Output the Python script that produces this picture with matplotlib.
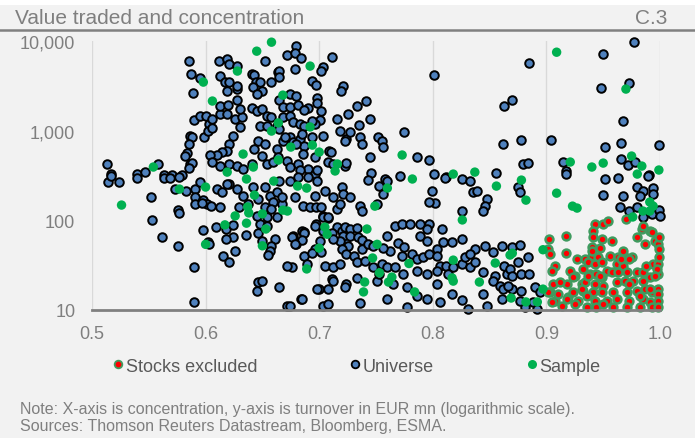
import numpy as np
import matplotlib.pyplot as plt
from matplotlib.lines import Line2D
from matplotlib.patches import Rectangle
from matplotlib.ticker import FixedLocator, FuncFormatter, NullLocator

plt.rcParams['font.family'] = ['Liberation Sans', 'DejaVu Sans']

# concentration (x) and turnover in EUR mn (y)
universe_conc = [
    .513, .517, .540, .547, .558, .563, .570, .579, .585, .587,
    .595, .589, .590, .586, .588, .585, .584, .582, .586, .588,
    .585, .514, .524, .517, .540, .563, .569, .577, .552, .553,
    .562, .576, .577, .576, .590, .590, .573, .583, .591, .595,
    .612, .619, .621, .628, .613, .617, .621, .619, .628, .628,
    .628, .641, .643, .644, .648, .642, .650, .645, .652, .658,
    .664, .665, .665, .672, .680, .679, .684, .679, .694, .697,
    .703, .702, .711,
    .674, .680, .665, .668, .674, .681, .690, .687, .698, .698,
    .702, .701, .696, .641, .645, .650, .654, .658, .648, .654,
    .663, .668, .674, .677, .683, .687, .694, .595, .600, .603,
    .606, .613, .619, .613, .620, .626, .630, .632, .630,
    .599, .602, .606, .624, .621, .619, .614, .610, .604, .646,
    .643, .652, .663, .668, .674, .677, .683, .687, .694, .696,
    .703, .709, .718, .724, .606, .613, .621, .628, .633, .641,
    .650, .654, .659, .664, .672, .674, .681, .686, .690, .696,
    .708, .712, .723, .665, .670, .685, .680, .710, .683, .698,
    .721, .719, .725, .716, .733, .741, .735, .745, .727, .723,
    .736, .738, .752, .755, .756, .745, .724, .746, .758, .775,
    .786, .797, .801, .801, .812,
    .885, .863, .870, .862, .878, .879, .884, .904, .915, .917,
    .950, .977, .948, .973, .967, .952, .966, .966, .972, .978,
    .990, .999, .952, .963, .856, .826, .833,
    .598, .602, .603, .609, .618, .624, .624, .618, .615, .621,
    .626, .629, .637, .636, .646, .648, .654, .650, .661, .658,
    .657, .655, .621, .628, .633, .642, .646, .652, .657, .663,
    .659, .652, .658, .667, .645, .654, .663, .646, .650, .645,
    .665, .591, .598, .601, .591, .597, .605, .613, .610, .614,
    .619,
    .684, .672, .676, .687, .689, .700, .703, .708, .705, .712,
    .711, .696, .702, .701, .677, .680, .685, .687, .697, .703,
    .708, .716, .720, .724, .721, .725, .716, .718,
    .665, .674, .681, .690, .698, .705, .712, .720, .721, .727,
    .743, .753, .760, .756, .771, .799, .802, .811, .826, .797,
    .667, .679, .686, .692, .697, .696, .702, .736, .738, .751,
    .703, .708, .676, .687, .685, .679, .696, .703, .711, .723,
    .727, .733, .721, .727, .734, .718, .720, .712, .738, .738,
    .743, .760, .767, .773, .780, .789, .797, .795, .808, .789,
    .795, .804, .809, .817, .826, .769, .775, .762, .756, .747,
    .672, .694, .718, .724, .731, .733, .740, .747, .755, .760,
    .767, .773, .782, .786, .791, .797, .804, .806, .812, .818,
    .826, .828, .833, .786, .795, .804, .813, .804, .733, .724,
    .712, .698, .708, .723, .751, .765, .777, .774, .753, .674,
    .685, .736, .760, .786, .795, .806, .817, .826, .831, .777,
    .835, .839, .848, .846, .844, .875, .877, .917, .950, .967,
    .980, .985, .994, .994, .989, .982, .965, .973, .980, .985,
    .993, .999, 1.0, .837, .846, .853, .861, .870, .877, .884,
    .833, .837, .844, .855, .853, .863, .865, .868, .875, .878,
    .870, .885, .859, .862, .870, .878, .844, .848, .861, .881,
    .890, .894, .888, .892, .866, .877,
]
universe_turnover = [
    425, 330, 330, 345, 425, 320, 320, 320, 6000, 4300,
    3900, 2600, 1300, 870, 850, 710, 560, 520, 425, 435,
    380, 270, 270, 310, 300, 300, 297, 305, 182, 101,
    65, 130, 121, 52, 30, 12.3, 223, 212, 223, 267,
    6000, 6300, 5500, 5250, 4060, 3480, 3480, 2760, 2910, 2190,
    3140, 4280, 4170, 3480, 3480, 3060, 2760, 2560, 5970, 3480,
    4500, 4620, 3960, 6960, 8800, 7320, 6450, 4860, 3570, 3220,
    5120, 4620, 6620,
    2560, 2430, 2190, 1830, 1830, 1930, 1790, 1700, 2310, 2030,
    1660, 1310, 1190, 1790, 1660, 1740, 1460, 1420, 1120, 1120,
    1120, 1420, 1460, 1250, 1190, 1120, 1280, 1460, 1460, 1190,
    1350, 1530, 1530, 1880, 1930, 1350, 1100, 1420, 1740,
    850, 990, 1070, 870, 710, 593, 577, 535, 535, 765,
    624, 710, 624, 765, 850, 746, 805, 673, 850, 508,
    870, 593, 990, 805, 447, 403, 425, 403, 373, 425,
    521, 425, 447, 508, 458, 393, 425, 548, 373, 328,
    447, 425, 403, 1040, 850, 915, 710, 577, 364, 364,
    3140, 2760, 1530, 1350, 1880, 2140, 1150, 1350, 965, 765,
    850, 710, 850, 765, 656, 508, 435, 337, 289, 965,
    508, 470, 4170, 328, 304,
    5670, 1880, 2190, 710, 785, 425, 435, 785, 447, 355,
    7140, 9700, 2980, 3390, 1280, 656, 728, 482, 414, 447,
    320, 690, 289, 297, 337, 289, 274,
    78, 57, 54, 84, 80, 89, 65, 62, 40, 34,
    45, 141, 152, 69, 72, 91, 86, 59, 62, 52,
    45, 41, 254, 223, 187, 235, 173, 235, 187, 207,
    160, 141, 134, 152, 112, 109, 109, 20.5, 21, 16.3,
    18, 182, 168, 152, 152, 156, 144, 141, 223, 207,
    254,
    13.3, 11.1, 30, 40, 33, 17.1, 11.1, 11.7, 31, 30,
    22, 48, 44, 59, 67, 54, 76, 74, 91, 112,
    106, 84, 76, 62, 48, 52, 134, 152,
    274, 274, 304, 304, 274, 212, 182, 235, 196, 182,
    281, 241, 274, 196, 312, 212, 156, 297, 127, 160,
    182, 182, 144, 141, 141, 187, 141, 144, 127, 152,
    109, 109, 65, 72, 60, 54, 86, 76, 72, 84,
    80, 82, 67, 67, 65, 59, 48, 62, 60, 48,
    54, 67, 86, 91, 91, 91, 91, 80, 80, 67,
    59, 48, 57, 57, 62, 56, 50, 45, 49, 52,
    31, 43, 33, 42, 40, 34, 35, 30, 33, 30,
    30, 40, 42, 37, 39, 42, 40, 31, 31, 30,
    33, 39, 30, 27, 25, 27, 25, 19.5, 23, 19.5,
    21, 17.1, 17.1, 18, 21, 19.5, 18, 25, 25, 11.1,
    13.3, 12, 13.3, 14.3, 13.3, 12.3, 15.1, 12.9, 10.3, 10.8,
    207, 212, 173, 144, 127, 235, 207, 328, 191, 187,
    235, 212, 229, 196, 312, 187, 141, 127, 141, 109,
    118, 130, 112, 48, 52, 44, 52, 50, 53, 39,
    42, 34, 26.6, 23.9, 21, 31, 25.2, 28.7, 34, 25.2,
    23.9, 25.2, 18.5, 17.1, 17.1, 16.3, 15.1, 11.1, 13.3, 10.8,
    18, 15.9, 12.3, 10.3, 18.5, 12.6,
]

sample_conc = [
    .658, .645, .598, .628, .692, .606, .668, .664, .658, .692,
    .633, .675, .694, .700, .664, .642, .619, .714, .716, .554,
    .909, .970, .773, .921, .940, .950, .975, .984, .980, .999,
    .818, .837, .782, .878, .526, .577, .600, .617, .600, .626,
    .636, .637, .638, .643, .636, .650, .653, .650, .660, .668,
    .689, .700, .705, .707, .681, .689, .672, .760, .749, .826,
    .742, .751, .747, .779, .818, .753, .764, .740, .761, .739,
    .784, .818, .817, .856, .882, .909, .923, .927, .991, .994,
    .991, .985, .976, .855, .841, .868, .870, .897, .897, .869,
    .882, .892,
]
sample_turnover = [
    9700, 7700, 3480, 4620, 5250, 2140, 2490, 1220, 990, 1100,
    548, 656, 690, 577, 470, 393, 345, 355, 425, 393,
    7500, 2910, 535, 447, 393, 435, 521, 403, 328, 364,
    328, 345, 289, 281, 148, 223, 235, 89, 54, 112,
    93, 141, 121, 191, 289, 118, 80, 52, 274, 130,
    28.7, 49, 84, 70, 241, 229, 127, 229, 144, 101,
    80, 54, 38, 33, 36, 26, 23.3, 20.5, 20.5, 15.9,
    15.9, 21, 22.8, 241, 168, 201, 144, 137, 160, 144,
    127, 127, 109, 33.4, 20.5, 41, 43, 47, 17.1, 13.6,
    12.3, 12.3,
]

excluded_conc = [
    .902, .917, .901, .903, .917, .908, .905, .906, .903, .908,
    .918, .919, .927, .934, .925, .931, .932, .923, .928, .936,
    .943, .950, .954, .941, .941, .949, .958, .940, .947, .940,
    .945, .956, .963, .969, .975, .937, .943, .949, .962, .967,
    .980, .987, .984, .991, .996, .998, .953, .958, .963, .971,
    .980, .985, .994, .998, .938, .944, .949, .934, .943, .950,
    .962, .969, .976, .985, .991, .998, .997, .941, .949, .959,
    .971, .980, .987, .993, .998, .998, .943, .953, .962, .973,
    .985, .991, .998, .944, .959, .971, .982, .993, .998, .912,
    .910, .925, .918, .970, .985, .993, .999, .940, .967, .966,
    .973, .999, .999, .921, .932, .923, .937, .947, .988, .996,
    .931, .973, .901, .936, .982, .991, .905, .914, .950,
]
excluded_turnover = [
    62, 67, 48, 42, 43, 31, 27.2, 19.5, 15.9, 12.6,
    19.5, 14, 37, 37, 23.9, 19.5, 16.3, 15.9, 12.6, 10.8,
    91, 91, 98, 76, 65, 62, 59, 50, 49, 40,
    39, 40, 39, 39, 39, 34, 32.6, 34, 32.6, 31,
    65, 54, 80, 76, 59, 54, 27.2, 26.6, 26.6, 26.6,
    26.6, 26.6, 32.6, 32.6, 25.2, 25.2, 23.3, 20.5, 19.5, 18.5,
    20.5, 21, 21, 21, 23.3, 25.2, 28.7, 15.9, 15.9, 15.9,
    15.9, 16.3, 17.1, 15.9, 17.1, 15.1, 12.6, 12.6, 13.3, 12.6,
    13.3, 12.3, 12.6, 10.8, 10.8, 10.8, 10.8, 10.8, 10.8, 20.5,
    15.1, 11.7, 13.3, 103, 86, 74, 65, 45, 45, 37,
    37, 48, 39, 27.2, 28.7, 23.3, 23.9, 23.9, 31, 23.9,
    17.1, 19.5, 15.9, 14.3, 14.3, 17.1, 12.3, 11.1, 11.7,
]

x_ticks = [0.5, 0.6, 0.7, 0.8, 0.9, 1.0]
y_ticks = [10, 100, 1000, 10000]
legend_labels = ["Stocks excluded", "Universe", "Sample"]

bg = '#f2f2f2'
grey = '#7f7f7f'
blue = '#4f81bd'
green = '#00b050'
red = '#ff0000'
red_edge = '#3f9b5f'

fig = plt.figure(figsize=(6.95, 4.39), dpi=100, facecolor=bg)
ax = fig.add_axes([92/695, 1 - 311/439, 568/695, 269/439])
ax.set_facecolor(bg)

ax.scatter(universe_conc, universe_turnover, s=38, c=blue, edgecolors='black',
           linewidths=1.4, zorder=3, clip_on=False)
ax.scatter(excluded_conc, excluded_turnover, s=32, c=red, edgecolors=red_edge,
           linewidths=1.8, zorder=4, clip_on=False)
ax.scatter(sample_conc, sample_turnover, s=46, c=green, edgecolors='none',
           zorder=5, clip_on=False)

ax.set_yscale('log')
ax.set_xlim(0.5, 1.0)
ax.set_ylim(10, 10000)
ax.xaxis.set_major_locator(FixedLocator(x_ticks))
ax.yaxis.set_major_locator(FixedLocator(y_ticks))
ax.yaxis.set_minor_locator(NullLocator())
ax.xaxis.set_major_formatter(FuncFormatter(lambda v, p: f"{v:.1f}"))
ax.yaxis.set_major_formatter(FuncFormatter(lambda v, p: f"{v:,.0f}"))
ax.tick_params(axis='both', length=0, labelsize=13, colors=grey)
ax.tick_params(axis='x', pad=11)
ax.tick_params(axis='y', pad=12)
ax.grid(axis='x', color='#d9d9d9', lw=1, zorder=0)
for side in ['top', 'right', 'left']:
    ax.spines[side].set_visible(False)
ax.spines['bottom'].set_color('#808080')
ax.spines['bottom'].set_linewidth(2)
ax.spines['bottom'].set_zorder(6)

# title bar
fig.patches.append(Rectangle((0, 1 - 6/439), 1, 6/439, transform=fig.transFigure,
                             facecolor='white', edgecolor='none'))
fig.add_artist(Line2D([0, 1], [1 - 31/439, 1 - 31/439], color='#808080', lw=1.8))
fig.text(15/695, 1 - 19/439, "Value traded and concentration", fontsize=15,
         color=grey, ha='left', va='center')
fig.text(667/695, 1 - 19/439, "C.3", fontsize=15, color=grey, ha='right', va='center')

handles = [
    Line2D([], [], ls='', marker='o', markersize=5.5, markerfacecolor=red,
           markeredgecolor=red_edge, markeredgewidth=1.3),
    Line2D([], [], ls='', marker='o', markersize=5.5, markerfacecolor=blue,
           markeredgecolor='black', markeredgewidth=1.3),
    Line2D([], [], ls='', marker='o', markersize=6.5, markerfacecolor=green,
           markeredgecolor='none'),
]
fig.legend(handles, legend_labels, loc='center', bbox_to_anchor=(0.513, 1 - 367/439),
           ncol=3, frameon=False, fontsize=13, handlelength=0.6, handletextpad=0.15,
           columnspacing=5.1, labelcolor='#595959')

fig.text(20/695, 1 - 410/439,
         "Note: X-axis is concentration, y-axis is turnover in EUR mn (logarithmic scale).",
         fontsize=11.5, color=grey, ha='left', va='center')
fig.text(20/695, 1 - 427/439, "Sources: Thomson Reuters Datastream, Bloomberg, ESMA.",
         fontsize=11.5, color=grey, ha='left', va='center')

fig.savefig('out.png', dpi=100, facecolor=fig.get_facecolor())
